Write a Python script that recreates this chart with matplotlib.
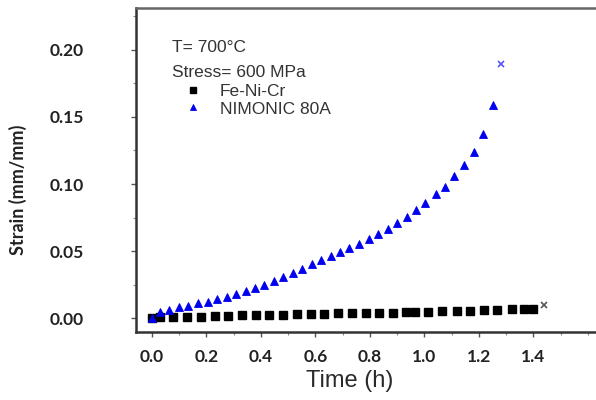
import matplotlib

matplotlib.use("Agg")
import matplotlib.pyplot as plt
from matplotlib.ticker import MultipleLocator, FormatStrFormatter

# NIMONIC 80A creep data (time in h, strain in mm/mm)
nimonic_t = [0.000, 0.029, 0.064, 0.100, 0.133, 0.170, 0.204, 0.240, 0.274, 0.308,
             0.344, 0.378, 0.412, 0.448, 0.482, 0.516, 0.552, 0.586, 0.620, 0.656,
             0.691, 0.725, 0.761, 0.795, 0.830, 0.865, 0.900, 0.935, 0.970, 1.004,
             1.041, 1.075, 1.109, 1.146, 1.182, 1.216, 1.252]
nimonic_s = [0.0000, 0.0043, 0.0060, 0.0080, 0.0092, 0.0110, 0.0120, 0.0142, 0.0159, 0.0179,
             0.0199, 0.0226, 0.0249, 0.0278, 0.0306, 0.0334, 0.0368, 0.0403, 0.0433, 0.0463,
             0.0493, 0.0520, 0.0555, 0.0587, 0.0627, 0.0666, 0.0711, 0.0756, 0.0806, 0.0860,
             0.0923, 0.0980, 0.1060, 0.1140, 0.1239, 0.1370, 0.1587]
nimonic_rupture = (1.280, 0.1896)

# Fe-Ni-Cr creep data
fenicr_t = [0.000, 0.029, 0.078, 0.130, 0.180, 0.231, 0.280, 0.331, 0.382, 0.430,
            0.482, 0.531, 0.582, 0.632, 0.683, 0.733, 0.784, 0.833, 0.883, 0.932,
            0.965, 1.014, 1.066, 1.118, 1.167, 1.218, 1.267, 1.320, 1.366, 1.399]
fenicr_s = [0.0000, 0.0005, 0.0005, 0.0005, 0.0010, 0.0017, 0.0017, 0.0020, 0.0025, 0.0025,
            0.0025, 0.0030, 0.0030, 0.0030, 0.0035, 0.0035, 0.0037, 0.0040, 0.0040, 0.0042,
            0.0047, 0.0047, 0.0052, 0.0054, 0.0054, 0.0060, 0.0060, 0.0065, 0.0065, 0.0067]
fenicr_rupture = (1.439, 0.0097)

x_ticks = [0.0, 0.2, 0.4, 0.6, 0.8, 1.0, 1.2, 1.4]

BOLD_FONT = "Lato"
TEXT_FONT = "Liberation Sans"

fig = plt.figure(figsize=(5.96, 4.0), dpi=100)
ax = fig.add_axes([136 / 596, 68 / 400, 460 / 596, 324 / 400])

ax.plot(fenicr_t, fenicr_s, ls="none", marker="s", ms=5.2, color="black", label="Fe-Ni-Cr")
ax.plot(nimonic_t, nimonic_s, ls="none", marker="^", ms=6.2, color="#0000ee",
        markeredgewidth=0.6, label="NIMONIC 80A")
ax.plot(*nimonic_rupture, ls="none", marker="x", ms=4.5, mew=1.2, color="#5555ee")
ax.plot(*fenicr_rupture, ls="none", marker="x", ms=4.5, mew=1.2, color="#555555")

ax.set_xlim(-0.0587, 1.63)
ax.set_ylim(-0.0104, 0.2313)
ax.set_xticks(x_ticks)
ax.xaxis.set_minor_locator(MultipleLocator(0.1))
ax.yaxis.set_major_locator(MultipleLocator(0.05))
ax.yaxis.set_minor_locator(MultipleLocator(0.025))
ax.xaxis.set_major_formatter(FormatStrFormatter("%.1f"))
ax.yaxis.set_major_formatter(FormatStrFormatter("%.2f"))

for side in ("left", "bottom", "top"):
    ax.spines[side].set_linewidth(1.8)
    ax.spines[side].set_color("#333333")
ax.spines["top"].set_color("#666666")
ax.spines["right"].set_visible(False)

ax.tick_params(which="major", direction="out", length=3.5, width=1, color="#555555",
               labelsize=12.5, labelcolor="#222222")
ax.tick_params(which="minor", direction="out", length=2, width=0.8, color="#888888")
ax.tick_params(axis="y", which="major", pad=34)
ax.tick_params(axis="x", which="major", pad=9)
for lab in ax.get_xticklabels() + ax.get_yticklabels():
    lab.set_fontfamily(BOLD_FONT)
    lab.set_fontweight("bold")

ax.set_xlabel("Time (h)", fontsize=17, family=TEXT_FONT, color="#2a2a2a")
ax.xaxis.set_label_coords(0.465, -0.118)
ax.set_ylabel("Strain (mm/mm)", fontsize=13, family=BOLD_FONT, fontweight="bold", color="#222222")
ax.yaxis.set_label_coords(-0.238, 0.44)

ax.text(0.078, 0.879, "T= 700°C", transform=ax.transAxes, fontsize=12.5,
        family=TEXT_FONT, color="#333333", va="center")
ax.text(0.078, 0.802, "Stress= 600 MPa", transform=ax.transAxes, fontsize=12.5,
        family=TEXT_FONT, color="#333333", va="center")

leg = ax.legend(loc="upper left", bbox_to_anchor=(0.105, 0.765), frameon=False,
                prop={"family": TEXT_FONT, "size": 12.5}, handlelength=1.0,
                handletextpad=1.05, borderpad=0, borderaxespad=0, labelspacing=0.12,
                markerscale=0.75)
for t in leg.get_texts():
    t.set_color("#333333")

fig.savefig("out.png", dpi=100)
